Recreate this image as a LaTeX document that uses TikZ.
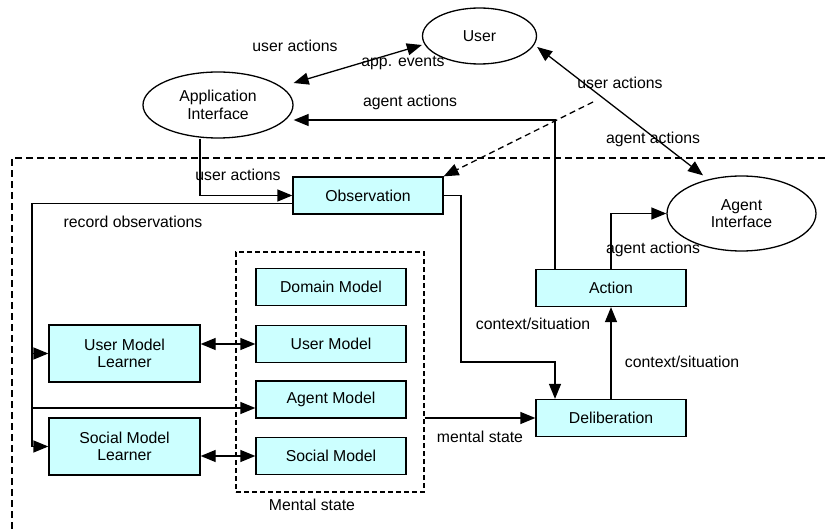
\documentclass[tikz,border=0pt]{standalone}
\usepackage{fontspec}
\setmainfont{Liberation Sans}
\usetikzlibrary{arrows.meta,shapes.geometric}
\definecolor{boxfill}{RGB}{204,255,255}
\begin{document}
\begin{tikzpicture}[x=1pt,y=-1pt,
  font=\fontsize{15.8}{17.5}\selectfont,
  line width=1.3pt,
  tip/.tip={Triangle[length=15pt,width=12pt]},
  arr/.style={-tip},
  darr/.style={tip-tip},
  modbox/.style={draw, fill=boxfill, minimum width=150pt, minimum height=37pt,
    inner sep=0pt, align=center},
  learner/.style={modbox, minimum width=151pt, minimum height=57pt},
  iface/.style={draw, ellipse, inner sep=0pt, align=center},
  lbl/.style={inner sep=0pt, align=center},
  outerdash/.style={dash pattern=on 7pt off 4pt},
  innerdash/.style={dash pattern=on 5pt off 3pt}]

\useasboundingbox (0,0) rectangle (825,529);

% agent boundary (open towards the right and the bottom)
\draw[outerdash, line width=1.5pt] (12,529) -- (12,158) -- (825,158);

% interfaces
\node[iface, minimum width=114pt, minimum height=56pt] (user) at (479.5,36) {User};
\node[iface, minimum width=150pt, minimum height=66pt] (app) at (218,105) {Application\\Interface};
\node[iface, minimum width=149pt, minimum height=75pt] (agent) at (741.5,213.5) {Agent\\Interface};

% processing boxes
\node[modbox] (obs) at (368,195.5) {Observation};
\node[modbox] (action) at (611,288) {Action};
\node[modbox] (delib) at (611,418) {Deliberation};

% mental state
\node[draw, innerdash, minimum width=188pt, minimum height=240pt, inner sep=0pt] (ms) at (330,372) {};
\node[modbox] (dom) at (331,287) {Domain Model};
\node[modbox] (um) at (331,344) {User Model};
\node[modbox] (agm) at (331,399.5) {Agent Model};
\node[modbox] (sm) at (331,456) {Social Model};
\node[lbl] (mslbl) at (312,505) {Mental state};

% learners
\node[learner] (uml) at (124.5,353.5) {User Model\\Learner};
\node[learner] (sml) at (124.5,446.5) {Social Model\\Learner};

% helper coordinates
\coordinate (bus) at (32,0);
\coordinate (dsrc) at (593,102);
\coordinate (delin) at ([xshift=-56pt]delib.north);
\coordinate (actl) at ([xshift=-56pt]action.north);

% user <-> interfaces
\draw[darr] ([yshift=22pt]app.east) -- ([yshift=-9pt]user.west);
\draw[darr] ([yshift=-11pt]user.east) -- ([xshift=-38.5pt]agent.north);

% application interface -> observation
\draw[arr] ([xshift=-18pt]app.south) |- (obs.west);

% user actions seen through the agent interface
\draw[arr, dashed, dash pattern=on 6pt off 4pt] (dsrc) -- (obs.north east);

% action -> application interface and agent interface
\draw[arr] (actl) |- ([yshift=-15pt]app.east);
\draw[arr] (action.north) |- (agent.west);

% record observations
\draw[arr] ([yshift=-8pt]obs.west) -| (bus |- sml.west) -- (sml.west);
\draw[arr] (bus |- uml.west) -- (uml.west);
\draw[arr] (bus |- 0,408) -- (agm.west |- 0,408);

% learners <-> models
\draw[darr] (uml.east |- um.west) -- (um.west);
\draw[darr] (sml.east |- sm.west) -- (sm.west);

% observation -> deliberation -> action
\draw[arr] (obs.east) -| (461,362) -| (delin);
\draw[arr] (delib.north) -- (action.south);
\draw[arr] (ms.east |- delib.west) -- (delib.west);

% connector labels
\node[lbl] (l1) at (295,46) {user actions};
\node[lbl] (l2) at (403,63) {app. events};
\node[lbl] (l3) at (410,102) {agent actions};
\node[lbl] (l4) at (620,83) {user actions};
\node[lbl] (l5) at (653,139) {agent actions};
\node[lbl] (l6) at (238,175) {user actions};
\node[lbl] (l7) at (133,222) {record observations};
\node[lbl] (l8) at (653,249) {agent actions};
\node[lbl] (l9) at (533,324) {context/situation};
\node[lbl] (l10) at (682,362) {context/situation};
\node[lbl] (l11) at (480,437) {mental state};
\end{tikzpicture}
\end{document}
